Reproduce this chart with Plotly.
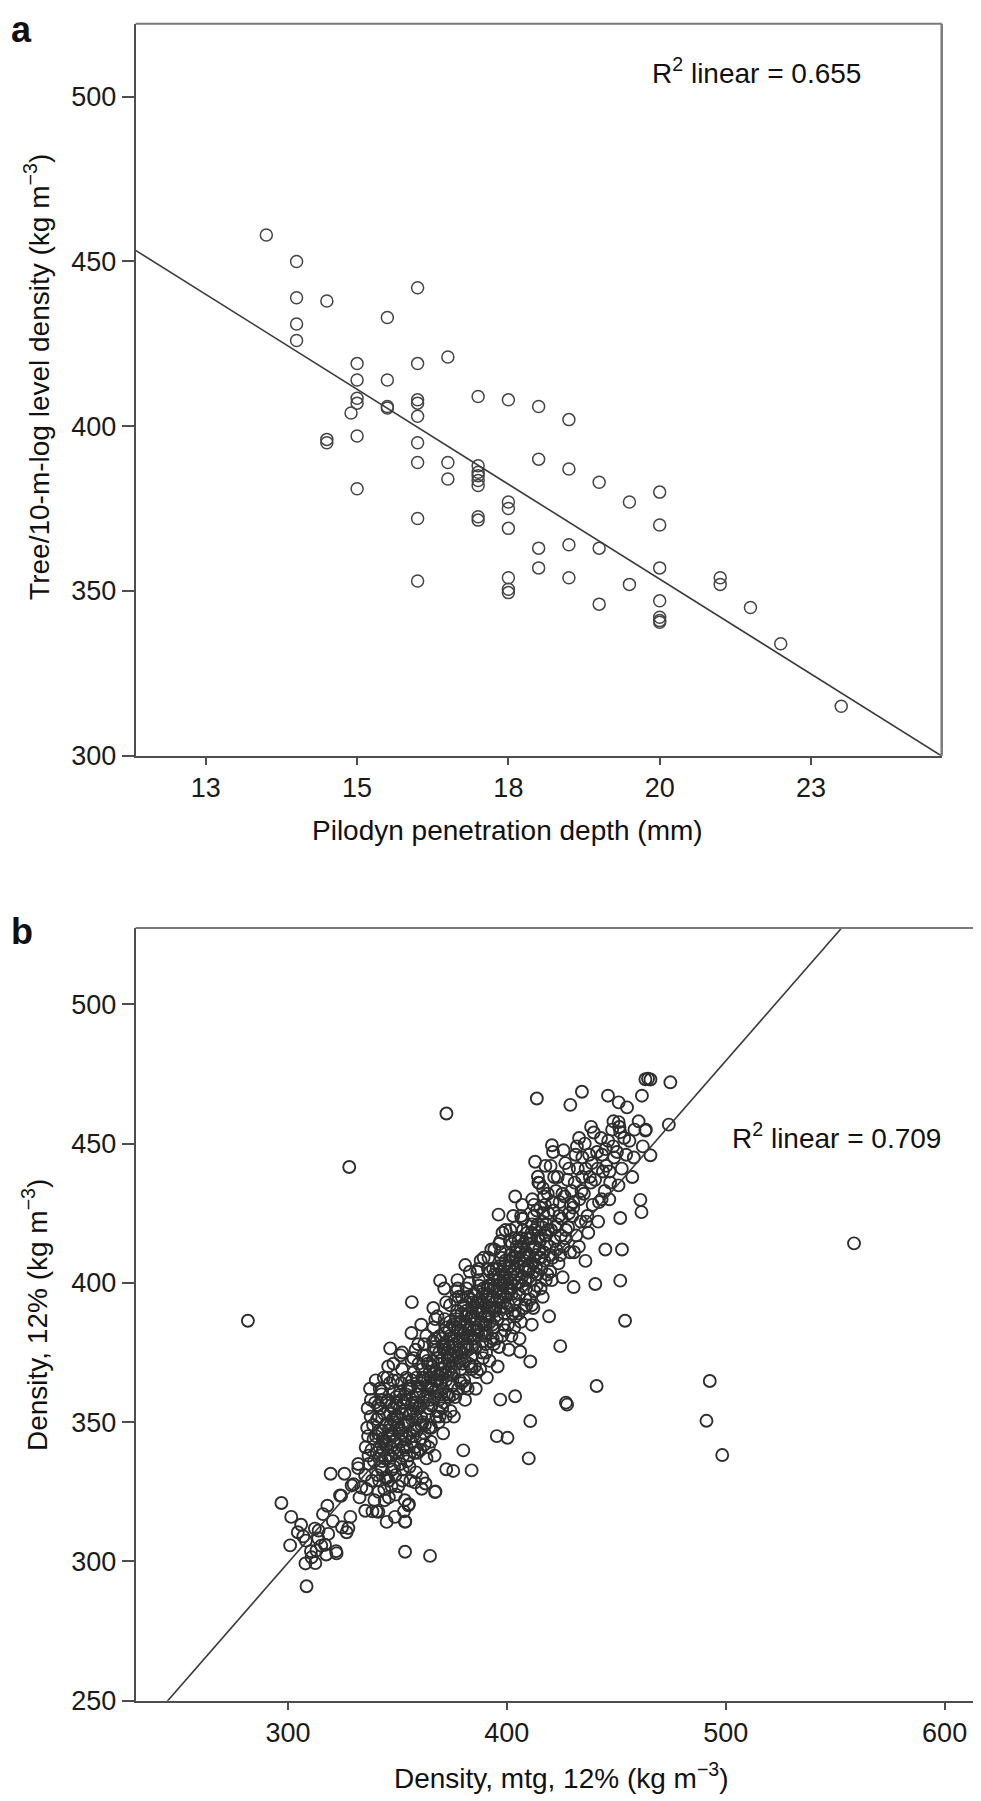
import plotly.graph_objects as go

# ---------------- Panel a data ----------------
pilodyn_a = [13.5,
             14, 14, 14, 14,
             14.5, 14.5, 14.5,
             14.9,
             15, 15, 15, 15, 15, 15,
             15.5, 15.5, 15.5, 15.5,
             16, 16, 16, 16, 16, 16, 16, 16, 16,
             16.5, 16.5, 16.5,
             17, 17, 17, 17, 17, 17, 17, 17,
             17.5, 17.5, 17.5, 17.5, 17.5, 17.5, 17.5,
             18, 18, 18, 18,
             18.5, 18.5, 18.5, 18.5,
             19, 19, 19,
             19.5, 19.5,
             20, 20, 20, 20, 20, 20, 20,
             21, 21,
             21.5,
             22,
             23]
density_a = [458,
             450, 439, 431, 426,
             438, 396, 395,
             404,
             419, 414, 408.5, 407, 397, 381,
             433, 414, 406, 405.5,
             442, 419, 408, 407, 403, 395, 389, 372, 353,
             421, 389, 384,
             409, 388, 386, 385, 383.5, 382, 372.5, 371.5,
             408, 377, 375, 369, 354, 350.5, 349.5,
             406, 390, 363, 357,
             402, 387, 364, 354,
             383, 363, 346,
             377, 352,
             380, 370, 357, 347, 342, 341, 340.5,
             354, 352,
             345,
             334,
             315]
fit_a_intercept = 584.0
fit_a_slope = -11.52
r2_a = "0.655"
ticks_a_x = [12.5, 15, 17.5, 20, 22.5]
ticklabels_a_x = ["13", "15", "18", "20", "23"]
ticks_a_y = [300, 350, 400, 450, 500]

# ---------------- Panel b data ----------------
b_tail_x = [297.0, 301.5, 301.0, 306.0, 308.0, 308.5, 312.5, 308.2, 310.5, 313.0,
            315.2, 316.0, 314.0, 318.4, 322.0, 319.5, 325.8, 324.7, 326.8, 324.3,
            332.1, 330.0, 332.7, 335.3, 307.0, 313.8, 316.9, 310.8, 322.2, 327.6,
            318.0, 332.1, 329.1, 323.8, 312.3, 304.5, 317.5, 328.5, 333.5, 320.5]
b_tail_y = [321.0, 316.0, 305.8, 313.2, 299.3, 291.1, 299.4, 307.5, 303.7, 303.9,
            305.7, 317.0, 311.1, 309.9, 303.7, 331.5, 331.5, 312.3, 310.5, 323.6,
            333.5, 327.7, 323.0, 318.2, 309.0, 308.3, 306.0, 301.5, 302.9, 312.0,
            320.0, 335.0, 327.3, 323.7, 311.8, 310.5, 302.5, 316.0, 326.5, 314.5]

b_core_x = [
    335.5, 336.2, 337.0, 337.8, 338.4, 339.1, 339.8, 335.9, 336.8, 337.5, 338.9, 339.5, 336.4, 338.1,
    340.2, 340.9, 341.5, 342.1, 342.8, 343.4, 344.0, 344.7, 340.5, 341.2, 341.9, 342.5, 343.1, 343.8, 344.4, 340.7, 341.7, 342.3, 343.6, 344.2, 341.0, 343.0,
    345.1, 345.6, 346.2, 346.8, 347.3, 347.9, 348.4, 349.0, 349.6, 345.3, 345.9, 346.5, 347.0, 347.6, 348.1, 348.7, 349.3, 349.8, 345.8, 346.9, 347.8, 348.9, 346.3, 349.4,
    350.1, 350.7, 351.2, 351.8, 352.4, 352.9, 353.5, 354.1, 354.6, 350.4, 351.0, 351.5, 352.1, 352.7, 353.2, 353.8, 354.4, 350.9, 352.0, 353.0, 354.0, 351.4,
    355.2, 355.8, 356.3, 356.9, 357.5, 358.0, 358.6, 359.2, 359.7, 355.5, 356.1, 356.6, 357.2, 357.8, 358.3, 358.9, 359.4, 355.9, 357.0, 358.2, 359.0, 356.4,
    360.2, 360.8, 361.3, 361.9, 362.5, 363.0, 363.6, 364.2, 364.7, 360.5, 361.1, 361.6, 362.2, 362.8, 363.3, 363.9, 364.5, 360.9, 362.0, 363.4, 364.0, 361.4,
    365.1, 365.7, 366.2, 366.8, 367.4, 367.9, 368.5, 369.1, 369.6, 365.4, 366.0, 366.5, 367.1, 367.7, 368.2, 368.8, 369.4, 369.9, 365.9, 367.0, 368.0, 369.0, 366.4, 368.6,
    370.2, 370.8, 371.3, 371.9, 372.4, 373.0, 373.6, 374.1, 374.7, 370.5, 371.1, 371.6, 372.2, 372.7, 373.3, 373.9, 374.4, 370.9, 371.8, 372.9, 374.0, 373.5, 371.4, 374.9,
    375.1, 375.7, 376.2, 376.8, 377.3, 377.9, 378.5, 379.0, 379.6, 375.4, 376.0, 376.5, 377.1, 377.6, 378.2, 378.8, 379.3, 379.9, 375.8, 376.9, 378.0, 379.1, 377.4, 376.3,
    380.2, 380.8, 381.3, 381.9, 382.4, 383.0, 383.6, 384.1, 384.7, 380.5, 381.1, 381.6, 382.2, 382.7, 383.3, 383.9, 384.4, 380.9, 381.8, 382.9, 384.0, 383.5, 381.4, 384.9,
    385.1, 385.7, 386.2, 386.8, 387.4, 387.9, 388.5, 389.0, 389.6, 385.4, 386.0, 386.5, 387.1, 387.6, 388.2, 388.8, 389.3, 389.9, 385.8, 386.9, 388.0, 389.1, 387.3, 386.3,
    390.2, 390.8, 391.3, 391.9, 392.4, 393.0, 393.6, 394.1, 394.7, 390.5, 391.1, 391.6, 392.2, 392.7, 393.3, 393.9, 394.4, 390.9, 391.8, 392.9, 394.0, 393.5,
    395.1, 395.7, 396.2, 396.8, 397.4, 397.9, 398.5, 399.0, 399.6, 395.4, 396.0, 396.5, 397.1, 397.6, 398.2, 398.8, 399.3, 395.8, 396.9, 398.0, 399.1, 397.3,
    400.2, 400.8, 401.3, 401.9, 402.4, 403.0, 403.6, 404.1, 404.7, 400.5, 401.1, 401.6, 402.2, 402.7, 403.3, 403.9, 404.4, 400.9, 401.8, 402.9, 404.0, 403.5,
    405.1, 405.7, 406.2, 406.8, 407.4, 407.9, 408.5, 409.0, 409.6, 405.4, 406.0, 406.5, 407.1, 407.6, 408.2, 408.8, 409.3, 405.8, 407.0, 408.9,
    410.2, 410.8, 411.3, 411.9, 412.4, 413.0, 413.6, 414.1, 414.7, 410.5, 411.1, 411.6, 412.2, 412.7, 413.3, 413.9, 414.4, 411.4,
    415.1, 415.7, 416.2, 416.8, 417.4, 417.9, 418.5, 419.0, 419.6, 415.4, 416.0, 416.5, 417.1, 417.6, 418.2, 419.3,
    420.2, 420.8, 421.3, 421.9, 422.4, 423.0, 423.6, 424.1, 424.7, 420.5, 421.6, 422.7, 423.9, 421.1,
    425.1, 425.8, 426.4, 427.0, 427.7, 428.3, 428.9, 429.5, 425.5, 426.7, 428.0, 429.2,
    430.3, 431.0, 431.7, 432.4, 433.1, 433.8, 434.5, 430.7, 432.0, 434.1,
    435.2, 436.0, 436.8, 437.6, 438.4, 439.2, 435.6, 437.2, 438.8,
    440.3, 441.2, 442.1, 443.0, 443.9, 444.7, 441.7, 443.5,
    445.4, 446.3, 447.2, 448.1, 449.0, 446.8, 448.6,
    450.3, 451.4, 452.5, 453.6, 451.0, 454.5,
    456.0, 458.0, 460.2, 462.1, 457.3, 463.5]
b_core_y = [
    341, 348, 335, 352, 329, 344, 357, 326, 338, 362, 349, 322, 355, 340,
    345, 331, 352, 338, 360, 343, 326, 349, 318, 356, 341, 334, 347, 366, 337, 351, 329, 355, 340, 322, 346, 336,
    342, 358, 336, 349, 327, 345, 361, 339, 352, 330, 347, 364, 341, 333, 355, 343, 324, 348, 370, 338, 351, 316, 344, 359,
    352, 340, 361, 346, 333, 357, 344, 366, 350, 327, 355, 343, 369, 338, 349, 358, 336, 347, 353, 318, 345, 374,
    350, 362, 343, 357, 368, 348, 360, 339, 371, 334, 353, 365, 345, 356, 376, 351, 363, 329, 359, 341, 347, 382,
    361, 352, 369, 357, 346, 374, 363, 355, 368, 340, 364, 350, 378, 359, 337, 371, 348, 385, 366, 353, 360, 330,
    366, 356, 372, 361, 380, 368, 354, 375, 364, 348, 370, 384, 359, 376, 365, 350, 381, 369, 362, 338, 373, 358, 391, 367,
    371, 362, 378, 368, 384, 373, 359, 381, 370, 355, 376, 387, 365, 379, 368, 386, 374, 346, 382, 360, 392, 372, 398, 363,
    377, 368, 384, 373, 390, 379, 365, 386, 375, 360, 381, 394, 371, 383, 376, 369, 389, 380, 352, 387, 395, 364, 401, 378,
    382, 372, 388, 378, 395, 384, 370, 391, 380, 365, 386, 398, 376, 389, 381, 374, 393, 358, 385, 400, 369, 387, 377, 396,
    387, 377, 393, 383, 399, 389, 375, 396, 385, 370, 391, 404, 381, 394, 386, 379, 398, 388, 362, 397, 408, 373, 390, 384,
    392, 382, 398, 388, 404, 394, 380, 401, 390, 375, 396, 409, 386, 399, 391, 384, 403, 366, 393, 412, 378, 395,
    397, 387, 403, 393, 409, 399, 385, 406, 395, 380, 401, 414, 391, 404, 396, 389, 408, 370, 398, 418, 383, 400,
    401, 392, 408, 398, 414, 404, 390, 411, 400, 385, 406, 419, 396, 409, 401, 394, 413, 376, 403, 424, 388, 405,
    406, 396, 413, 402, 419, 408, 394, 416, 404, 389, 411, 424, 399, 414, 405, 398, 418, 380, 428, 392,
    410, 401, 418, 407, 424, 413, 399, 421, 409, 394, 416, 430, 404, 419, 410, 403, 436, 385,
    415, 405, 422, 411, 428, 417, 403, 425, 413, 398, 420, 434, 408, 442, 414, 388,
    419, 409, 426, 415, 433, 421, 407, 429, 417, 401, 438, 412, 424, 447,
    423, 413, 431, 419, 437, 425, 411, 433, 402, 443, 420, 428,
    427, 436, 417, 441, 430, 422, 445, 411, 449, 433,
    432, 441, 424, 446, 436, 428, 450, 418, 443,
    437, 447, 429, 452, 440, 433, 422, 446,
    442, 451, 436, 455, 445, 430, 449,
    447, 456, 441, 452, 435, 446,
    451, 445, 458, 449, 438, 455]

b_dense_x = [
    340.6, 341.8, 342.9, 343.9, 344.8, 345.7, 346.6, 347.5, 348.5, 349.5, 346.0, 348.0,
    350.5, 351.6, 352.6, 353.7, 354.8, 355.6, 356.7, 357.7, 358.8, 359.8, 352.3, 357.3,
    360.4, 361.5, 362.6, 363.7, 364.8, 365.6, 366.7, 367.8, 368.9, 369.8, 362.4, 367.3,
    370.4, 371.5, 372.6, 373.7, 374.8, 375.6, 376.7, 377.8, 378.9, 379.8, 372.1, 377.0,
    380.4, 381.5, 382.6, 383.7, 384.8, 385.6, 386.7, 387.8, 388.9, 389.8, 382.1, 387.0,
    390.4, 391.5, 392.6, 393.7, 394.8, 395.6, 396.7, 397.8, 398.9, 399.8, 392.1, 397.0,
    400.4, 401.5, 402.6, 403.7, 404.8, 405.6, 406.7, 407.8, 408.9, 409.8, 402.1, 407.0,
    410.4, 411.5, 412.6, 413.7, 414.8, 415.6, 416.7, 417.8, 418.9, 419.8, 412.1, 417.0]
b_dense_y = [
    339, 347, 333, 353, 343, 338, 353, 346, 334, 357, 329, 365,
    349, 358, 341, 353, 362, 346, 351, 339, 366, 355, 329, 373,
    356, 366, 349, 372, 358, 363, 377, 352, 371, 360, 342, 387,
    367, 377, 360, 383, 367, 374, 388, 362, 383, 371, 352, 397,
    377, 390, 371, 394, 383, 380, 393, 369, 391, 381, 362, 405,
    385, 399, 379, 405, 391, 394, 406, 381, 402, 391, 372, 415,
    396, 410, 389, 416, 403, 400, 416, 391, 411, 406, 381, 423,
    405, 421, 397, 426, 412, 409, 425, 401, 419, 410, 391, 431]

b_fill_x = [
    335.2, 336.6, 337.9, 339.3, 340.1, 341.4, 342.6, 343.3, 344.5, 338.6, 341.9, 344.9,
    345.4, 346.1, 347.1, 348.2, 349.1, 350.2, 351.3, 352.2, 353.4, 354.3, 346.7, 348.8, 351.9, 353.9,
    355.4, 356.5, 357.4, 358.5, 359.5, 360.6, 361.7, 362.3, 363.2, 364.3, 356.0, 358.7, 361.0, 363.8,
    365.3, 366.3, 367.2, 368.3, 369.3, 370.3, 371.2, 372.3, 373.2, 374.3, 366.9, 368.4, 371.7, 373.8,
    375.3, 376.4, 377.5, 378.3, 379.4, 380.3, 381.2, 382.3, 383.1, 384.3, 376.6, 378.6, 381.7, 383.8,
    385.3, 386.4, 387.2, 388.3, 389.4, 390.3, 391.4, 392.3, 393.4, 394.3, 386.6, 388.6, 391.7, 393.8,
    395.3, 396.4, 397.2, 398.3, 399.4, 400.3, 401.4, 402.3, 403.4, 404.3, 396.6, 398.6, 401.7, 403.8,
    405.3, 406.4, 407.3, 408.4, 409.4, 410.3, 411.4, 412.4, 413.4, 414.3, 407.7, 412.0,
    415.3, 416.4, 417.5, 418.7, 419.8, 420.9, 422.1, 423.2, 424.4, 418.0,
    425.4, 426.9, 428.4, 429.9, 431.4, 432.9, 434.4, 430.4,
    436.1, 437.9, 439.7, 441.5, 443.3, 445.1, 446.9, 448.7]
b_fill_y = [
    331, 345, 358, 336, 365, 325, 358, 344, 330, 318, 362, 357,
    366, 323, 356, 371, 331, 365, 335, 375, 322, 341, 345, 350, 364, 360,
    338, 372, 354, 332, 378, 344, 374, 365, 381, 341, 363, 357, 349, 362,
    343, 379, 365, 388, 352, 380, 357, 393, 375, 354, 368, 361, 370, 377,
    385, 359, 398, 372, 395, 392, 363, 383, 404, 377, 375, 386, 381, 388,
    396, 368, 401, 382, 409, 378, 405, 391, 385, 412, 389, 393, 389, 398,
    405, 377, 411, 393, 419, 398, 415, 406, 384, 420, 395, 401, 400, 409,
    415, 386, 423, 401, 409, 416, 392, 428, 406, 416, 410, 413,
    427, 395, 417, 432, 404, 429, 420, 438, 410, 421,
    432, 416, 441, 424, 446, 413, 438, 429,
    422, 438, 454, 441, 430, 448, 440, 458]

b_outer_x = [413.7, 429.0, 434.3, 446.2, 451.1, 454.9, 461.7, 463.3, 464.5, 465.6,
             474.7, 451.1, 451.4, 451.8, 463.3, 474.0, 465.6, 461.0, 461.5, 451.8,
             452.6, 451.8, 440.4, 445.0, 412.9, 420.6, 425.9, 414.2, 414.9, 403.8,
             396.2, 356.6, 369.5, 381.0, 346.7, 424.4, 410.7, 406.1, 403.8, 427.5,
             410.7, 397.0, 435.9, 430.5, 281.7, 328.0, 372.4, 558.6, 492.7, 491.2,
             498.4, 454.0, 441.0, 427.0, 410.0, 353.5, 364.9, 353.6, 355.3, 367.4,
             362.8, 372.3, 375.5, 383.9, 380.1, 395.4, 400.3, 342.8, 351.2, 341.3,
             345.1, 353.5, 355.0, 358.1, 367.2, 361.1, 458.3, 433.0, 438.5, 420.0]
b_outer_y = [466.2, 463.9, 468.6, 467.2, 464.8, 463.0, 467.2, 473.1, 473.3, 473.0,
             472.0, 457.7, 455.9, 454.1, 454.7, 456.8, 445.8, 429.8, 425.4, 423.3,
             412.0, 400.8, 399.6, 412.0, 443.5, 449.4, 447.6, 438.1, 435.8, 431.0,
             424.5, 393.1, 400.8, 406.4, 376.5, 377.3, 371.8, 375.3, 359.3, 356.3,
             350.4, 358.1, 407.9, 398.5, 386.4, 441.6, 460.8, 414.2, 364.8, 350.5,
             338.2, 386.4, 363.0, 357.0, 337.0, 303.5, 302.0, 314.4, 320.6, 325.1,
             328.0, 333.1, 332.5, 332.7, 339.9, 345.0, 344.4, 361.1, 359.9, 317.8,
             314.2, 314.2, 320.2, 328.4, 324.9, 326.1, 455.0, 452.0, 456.0, 442.0]

fit_b_intercept = 29.2
fit_b_slope = 0.901
r2_b = "0.709"
ticks_b_x = [300, 400, 500, 600]
ticks_b_y = [250, 300, 350, 400, 450, 500]

mtg_b = b_tail_x + b_core_x + b_dense_x + b_fill_x + b_outer_x
d12_b = b_tail_y + b_core_y + b_dense_y + b_fill_y + b_outer_y

# ---------------- layout constants ----------------
W, H = 981, 1801
FONT = "Liberation Sans, Arial, Helvetica, sans-serif"
range_a_x = [11.34, 24.66]
range_a_y = [300, 522.1]
range_b_x = [230.4, 618.3]
range_b_y = [250, 527.4]

fig = go.Figure()

mk_a = dict(symbol="circle-open", size=12, color="#444444", line=dict(width=1.5))
mk_b = dict(symbol="circle-open", size=12, color="#2e2e2e", line=dict(width=1.9))

fig.add_trace(go.Scatter(x=pilodyn_a, y=density_a, mode="markers", marker=mk_a,
                         xaxis="x", yaxis="y", showlegend=False))
fig.add_trace(go.Scatter(x=range_a_x,
                         y=[fit_a_intercept + fit_a_slope * v for v in range_a_x],
                         mode="lines", line=dict(color="#3a3a3a", width=1.6),
                         xaxis="x", yaxis="y", showlegend=False))

fig.add_trace(go.Scatter(x=mtg_b, y=d12_b, mode="markers", marker=mk_b,
                         xaxis="x2", yaxis="y2", showlegend=False))
fig.add_trace(go.Scatter(x=range_b_x,
                         y=[fit_b_intercept + fit_b_slope * v for v in range_b_x],
                         mode="lines", line=dict(color="#3a3a3a", width=1.6),
                         xaxis="x2", yaxis="y2", showlegend=False))

axis_common = dict(showgrid=False, zeroline=False, showline=True,
                   linecolor="#4d4d4d", linewidth=2, ticks="outside",
                   tickcolor="#4d4d4d", tickwidth=2,
                   tickfont=dict(family=FONT, size=27, color="#1a1a1a"))

fig.update_layout(
    width=W, height=H, autosize=False,
    margin=dict(l=0, r=0, t=0, b=0),
    paper_bgcolor="white", plot_bgcolor="white",
    xaxis=dict(domain=[127.6 / W, 933.7 / W], range=range_a_x, anchor="y",
               tickvals=ticks_a_x, ticktext=ticklabels_a_x, ticklen=7, **axis_common),
    yaxis=dict(domain=[1 - 754 / H, 1 - 16 / H], range=range_a_y, anchor="x",
               tickvals=ticks_a_y, ticklen=12, **axis_common),
    xaxis2=dict(domain=[127.6 / W, 976.7 / W], range=range_b_x, anchor="y2",
                tickvals=ticks_b_x, ticklen=7, **axis_common),
    yaxis2=dict(domain=[1 - 1707 / H, 1 - 927.7 / H], range=range_b_y, anchor="x2",
                tickvals=ticks_b_y, ticklen=12, **axis_common),
)

# frame (top and right edges)
for xr, yr in (("x domain", "y domain"), ("x2 domain", "y2 domain")):
    fig.add_shape(type="line", xref=xr, yref=yr, x0=0, x1=1, y0=1, y1=1,
                  line=dict(color="#7a7a7a", width=2))
    fig.add_shape(type="line", xref=xr, yref=yr, x0=1, x1=1, y0=0, y1=1,
                  line=dict(color="#7a7a7a", width=2.5))

txt = dict(family=FONT, size=28, color="#111111")
c = dict(showarrow=False, xanchor="center", yanchor="middle")
ann = [
    dict(text="<b>a</b>", x=13 / W, y=1 - 22 / H, xref="paper", yref="paper",
         font=dict(family=FONT, size=36, color="#111111"), **c),
    dict(text="<b>b</b>", x=14 / W, y=1 - 931 / H, xref="paper", yref="paper",
         font=dict(family=FONT, size=36, color="#111111"), **c),
    dict(text="R<sup>2</sup> linear = " + r2_a, x=0.770, y=0.936,
         xref="x domain", yref="y domain", font=txt, **c),
    dict(text="R<sup>2</sup> linear = " + r2_b, x=0.826, y=0.731,
         xref="x2 domain", yref="y2 domain", font=txt, **c),
    dict(text="Pilodyn penetration depth (mm)", x=500 / W, y=1 - 829 / H,
         xref="paper", yref="paper", font=txt, **c),
    dict(text="Tree/10-m-log level density (kg m<sup>−3</sup>)", x=29 / W, y=1 - 372 / H,
         xref="paper", yref="paper", font=txt, textangle=-90, **c),
    dict(text="Density, mtg, 12% (kg m<sup>−3</sup>)", x=553 / W, y=1 - 1783 / H,
         xref="paper", yref="paper", font=txt, **c),
    dict(text="Density, 12% (kg m<sup>−3</sup>)", x=27 / W, y=1 - 1318 / H,
         xref="paper", yref="paper", font=txt, textangle=-90, **c),
]
fig.update_layout(annotations=ann)

fig.write_html("out.html")
